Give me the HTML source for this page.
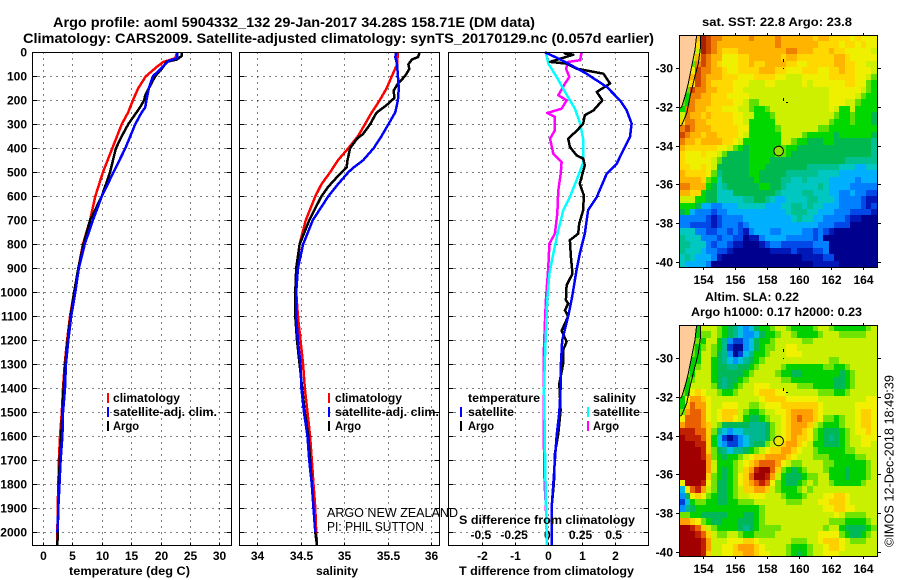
<!DOCTYPE html>
<html lang="en">
<head>
<meta charset="utf-8">
<title>Argo profile 5904332_132</title>
<style>
html,body{margin:0;padding:0;background:#fff;}
svg{display:block;}
text{font-family:"Liberation Sans",sans-serif;font-weight:700;font-size:12px;fill:#000;}
.thin{font-weight:400;font-size:13px;}
.title{font-size:14px;}
</style>
</head>
<body>
<svg id="chart" xmlns="http://www.w3.org/2000/svg" width="900" height="580" viewBox="0 0 900 580">
<rect x="0" y="0" width="900" height="580" fill="#fff"/>
<g id="maps"></g>
<g id="plots"></g>
<text class="title" x="53" y="27" textLength="482" lengthAdjust="spacingAndGlyphs">Argo profile: aoml 5904332_132 29-Jan-2017 34.28S 158.71E (DM data)</text>
<text class="title" x="23" y="43" textLength="631" lengthAdjust="spacingAndGlyphs">Climatology: CARS2009. Satellite-adjusted climatology: synTS_20170129.nc (0.057d earlier)</text>
<text x="69" y="575" textLength="121" lengthAdjust="spacingAndGlyphs">temperature (deg C)</text>
<text x="316" y="575" textLength="42" lengthAdjust="spacingAndGlyphs">salinity</text>
<text x="459" y="575" textLength="175" lengthAdjust="spacingAndGlyphs">T difference from climatology</text>
<text x="459" y="524" textLength="176" lengthAdjust="spacingAndGlyphs">S difference from climatology</text>
<text x="113" y="402" textLength="67" lengthAdjust="spacingAndGlyphs">climatology</text>
<text x="113" y="416" textLength="104" lengthAdjust="spacingAndGlyphs">satellite-adj. clim.</text>
<text x="113" y="430" textLength="26" lengthAdjust="spacingAndGlyphs">Argo</text>
<rect x="107" y="393" width="2" height="10" fill="#f00"/>
<rect x="107" y="407" width="2" height="10" fill="#00f"/>
<rect x="107" y="421" width="2" height="10" fill="#000"/>
<text x="335" y="402" textLength="67" lengthAdjust="spacingAndGlyphs">climatology</text>
<text x="335" y="416" textLength="104" lengthAdjust="spacingAndGlyphs">satellite-adj. clim.</text>
<text x="335" y="430" textLength="26" lengthAdjust="spacingAndGlyphs">Argo</text>
<rect x="328" y="393" width="2" height="10" fill="#f00"/>
<rect x="328" y="407" width="2" height="10" fill="#00f"/>
<rect x="328" y="421" width="2" height="10" fill="#000"/>
<text x="468" y="402" textLength="72" lengthAdjust="spacingAndGlyphs">temperature</text>
<text x="468" y="416" textLength="46" lengthAdjust="spacingAndGlyphs">satellite</text>
<text x="468" y="430" textLength="26" lengthAdjust="spacingAndGlyphs">Argo</text>
<rect x="460" y="407" width="2" height="10" fill="#00f"/>
<rect x="460" y="421" width="2" height="10" fill="#000"/>
<text x="593" y="402" textLength="43" lengthAdjust="spacingAndGlyphs">salinity</text>
<text x="593" y="416" textLength="47" lengthAdjust="spacingAndGlyphs">satellite</text>
<text x="593" y="430" textLength="26" lengthAdjust="spacingAndGlyphs">Argo</text>
<rect x="587" y="407" width="2" height="10" fill="#0ff"/>
<rect x="587" y="421" width="2" height="10" fill="#f0f"/>
<text class="thin" x="327" y="517" textLength="131" lengthAdjust="spacingAndGlyphs">ARGO NEW ZEALAND</text>
<text class="thin" x="327" y="531" textLength="97" lengthAdjust="spacingAndGlyphs">PI: PHIL SUTTON</text>
<text x="702" y="26" textLength="150" lengthAdjust="spacingAndGlyphs">sat. SST: 22.8 Argo: 23.8</text>
<text x="705" y="301" textLength="94" lengthAdjust="spacingAndGlyphs">Altim. SLA: 0.22</text>
<text x="691" y="316" textLength="171" lengthAdjust="spacingAndGlyphs">Argo h1000: 0.17 h2000: 0.23</text>
<text class="thin" transform="translate(893.5,547) rotate(-90)" x="0" y="0" textLength="172" lengthAdjust="spacingAndGlyphs">©IMOS 12-Dec-2018 18:49:39</text>
</svg>
<script>
// ---------- profile data (depths in metres) ----------
const depthTicks = [0,100,200,300,400,500,600,700,800,900,1000,1100,1200,1300,1400,1500,1600,1700,1800,1900,2000];
const tempTicks = [0,5,10,15,20,25,30];
const salTicks = [34,34.5,35,35.5,36];
const tDiffTicks = [-2,-1,0,1,2];
const sDiffTicks = [-0.5,-0.25,0,0.25,0.5];
const sDiffTickLabels = ["-0.5","-0.25","0","0.25","0.5"];

const tempClimDepth = [0,25,40,60,100,150,200,250,300,400,500,600,700,800,900,1000,1100,1200,1300,1400,1500,1600,1700,1800,1900,2000,2054];
const tempClim = [22.8,22.5,20.5,19.4,17.5,16.2,15.3,14.5,13.4,11.8,10.2,8.9,8,6.8,6,5.3,4.6,4.1,3.7,3.4,3.2,2.9,2.7,2.6,2.5,2.45,2.4];
const tempSatDepth = [0,25,35,60,100,150,200,230,250,300,400,500,600,700,800,900,1000,1100,1200,1300,1400,1500,1600,1700,1800,1900,2000];
const tempSat = [22.8,22.8,21.4,20.4,18.7,18,17.6,17.4,16.8,15.7,14,12,10,8.5,7.1,6.1,5.5,4.8,4.3,3.9,3.75,3.4,3.3,3,2.8,2.6,2.45];
const tempArgoDepth = [0,15,30,40,60,100,150,180,200,230,300,350,400,500,550,600,700,800,900,1000,1100,1200,1300,1400,1500,1600,1700,1800,1900,2000,2054];
const tempArgo = [23.6,23.6,22.8,21,20.5,19.1,18,17.4,17.2,16.5,14.5,13.4,12.4,11.4,10.7,10,8,6.9,6,5.3,4.7,4.2,3.8,3.5,3.3,3.1,2.85,2.7,2.6,2.5,2.45];

const salClimDepth = [0,50,100,150,200,250,300,350,400,450,500,550,600,700,800,900,1000,1100,1200,1300,1400,1500,1600,1700,1800,1900,2000,2054];
const salClim = [35.62,35.61,35.55,35.49,35.41,35.32,35.24,35.16,35.05,34.93,34.84,34.74,34.67,34.56,34.49,34.46,34.45,34.47,34.5,34.53,34.55,34.58,34.61,34.63,34.65,34.67,34.68,34.69];
const salSatDepth = [0,20,50,100,150,200,250,300,350,400,450,480,500,550,600,700,800,900,1000,1100,1200,1300,1400,1500,1600,1700,1800,1900,2000];
const salSat = [35.6,35.59,35.61,35.62,35.63,35.62,35.59,35.51,35.43,35.34,35.22,35.11,35.05,34.93,34.82,34.64,34.53,34.47,34.45,34.45,34.47,34.5,34.51,34.54,34.58,34.6,34.63,34.65,34.67];
const salArgoDepth = [0,20,30,50,70,100,130,160,190,220,250,260,300,340,360,400,450,480,520,560,600,700,800,900,1000,1100,1200,1300,1400,1500,1600,1700,1800,1900,2000,2054];
const salArgo = [35.87,35.85,35.78,35.74,35.75,35.7,35.62,35.57,35.58,35.49,35.38,35.36,35.3,35.22,35.15,35.07,35.04,35.03,34.92,34.82,34.74,34.6,34.49,34.45,34.44,34.44,34.46,34.49,34.52,34.55,34.59,34.61,34.63,34.65,34.67,34.69];

const tDiffSatDepth = [0,26,47,89,144,200,242,297,353,408,464,506,603,658,756,839,908,992,1033,1100,1200,1300,1400,1500,1600,1700,1800,1900,2000,2054];
const tDiffSat = [-0.1,0.3,0.6,1.15,1.76,2.16,2.36,2.51,2.46,2.26,2.06,1.76,1.46,1.2,1.1,0.95,0.85,0.75,0.7,0.6,0.42,0.38,0.37,0.33,0.25,0.2,0.15,0.1,0.1,0.1];
const tDiffArgoDepth = [0,5,10,40,47,68,89,130,165,200,242,262,297,325,360,394,429,443,471,547,596,658,714,756,783,853,922,971,1033,1047,1075,1100,1160,1206,1240,1297,1380,1492,1589,1672,1797,1894,2000,2054];
const tDiffArgo = [0.5,0.5,0.75,0.05,0.55,0.85,1.66,1.86,1.46,1.63,1.36,1.1,1.05,0.87,0.6,0.65,0.85,1.05,1.1,0.95,1.07,1.05,0.93,0.9,0.65,0.68,0.73,0.55,0.53,0.6,0.5,0.6,0.4,0.55,0.45,0.45,0.33,0.37,0.3,0.2,0.17,0.1,0.1,0.1];
const sDiffSatDepth = [0,47,103,165,235,297,367,457,533,603,658,742,839,922,1033,1100,1240,1408,1550,1725,1867,2000,2054];
const sDiffSat = [-0.018,0,0.063,0.126,0.2,0.24,0.264,0.264,0.213,0.163,0.113,0.075,0.038,0.008,-0.008,-0.013,-0.023,-0.033,-0.028,-0.023,-0.018,-0.013,-0.013];
const sDiffArgoDepth = [0,33,40,68,103,130,179,200,235,253,269,325,360,422,457,506,575,672,756,797,894,992,1033,1100,1240,1408,1630,1797,1894,2000];
const sDiffArgo = [0.25,0.24,0.15,0.133,0.158,0.126,0.075,0.138,0.1,-0.008,0.05,0.05,0.013,0.038,0.1,0.093,0.075,0.068,0.05,0.008,0,-0.013,-0.018,-0.023,-0.033,-0.033,-0.033,-0.028,-0.018,-0.013];

// ---------- map data ----------
const mapLonTicks = [154,156,158,160,162,164];
const mapLatTicks = [-30,-32,-34,-36,-38,-40];
const coastLon = [153.58,153.48,153.27,153.06,152.85,152.65,152.54];
const coastLat = [-28.28,-29.06,-29.92,-30.78,-31.47,-31.99,-32.07];
const contourLon = [153.83,153.83,153.69,153.42,153.17,152.96,152.65,152.52];
const contourLat = [-28.28,-28.88,-29.75,-30.61,-31.47,-32.33,-32.94,-33.0];
const profileLon = 158.71;
const profileLat = -34.28;
const sstLevelColors = ["#00008f","#0018b8","#0048e8","#0080ff","#00b0ff","#00c8c0","#00c090","#00b850","#00d800","#60e000","#ccf000","#eef000","#ffd800","#ffb400","#f08000","#d04800","#a82000"];
const slaLevelColors = ["#000a90","#0040d8","#0090ff","#00c0e0","#00b890","#00b858","#00d000","#70e400","#c8f000","#f0f000","#ffd000","#ffa000","#e86000","#c02000","#a00000"];
const sstLevels = [
[13,13,13,13,16,15,14,14,13,13,13,13,13,14,13,13,13,13,14,13,13,13,13,13,13,12,13,13,12,12,12,12,11,12,11,11,11],
[13,13,13,12,16,15,14,13,13,13,13,13,13,13,13,13,13,13,14,13,13,13,13,13,13,13,12,12,12,12,11,12,12,11,12,11,11],
[13,13,11,10,16,15,14,13,12,12,12,13,13,13,13,13,13,13,13,13,14,14,13,13,13,12,12,12,13,12,12,11,11,11,11,11,10],
[13,13,10,13,15,14,13,13,11,11,11,12,12,13,13,13,13,13,13,12,13,13,12,12,12,12,12,12,12,13,13,12,11,11,11,11,11],
[13,13,9,14,15,14,13,12,11,11,11,12,12,13,12,12,13,13,13,13,12,12,11,11,12,12,12,12,12,13,13,12,12,11,11,10,10],
[13,13,11,15,14,14,13,13,12,11,11,12,12,12,12,13,13,13,12,12,11,11,11,12,12,12,11,11,12,12,13,12,12,11,11,11,10],
[13,12,13,15,14,13,13,13,12,12,12,11,11,11,12,12,12,12,11,11,10,10,10,11,11,11,11,11,12,12,12,12,12,11,11,10,9],
[13,10,12,15,14,13,12,12,12,12,11,11,11,10,10,10,11,11,10,10,10,10,10,11,10,11,11,11,11,11,11,12,12,11,11,9,8],
[13,9,15,14,14,13,13,12,12,12,11,11,10,10,10,10,10,10,10,10,10,10,10,10,10,10,10,10,11,11,11,11,11,11,10,9,8],
[12,8,14,14,13,13,12,12,12,11,11,11,11,10,10,10,10,10,10,10,10,10,10,10,10,10,10,10,11,11,11,11,11,10,9,8,8],
[9,8,14,13,13,13,12,12,12,12,11,11,10,9,9,10,10,10,10,10,10,10,10,10,10,10,10,10,11,11,11,10,10,9,8,8,8],
[8,14,14,13,13,12,12,12,11,11,11,10,10,9,8,8,9,10,10,10,10,10,10,10,10,10,10,10,11,10,8,8,10,8,8,8,8],
[10,14,13,13,12,13,12,12,12,12,11,11,10,10,8,8,8,9,10,10,10,10,10,10,10,10,10,10,10,9,8,8,9,8,8,8,7],
[12,14,14,13,13,12,12,12,12,12,11,11,10,8,8,8,8,8,10,10,10,10,10,10,10,10,10,10,9,8,8,8,9,8,8,8,7],
[14,15,14,13,13,13,12,12,12,12,12,11,11,8,8,8,8,8,9,10,10,10,10,10,10,10,9,9,8,8,8,8,8,8,8,8,8],
[15,14,13,13,12,13,13,12,12,12,12,11,10,8,8,8,8,8,8,10,10,10,10,9,8,8,8,8,8,7,8,8,8,8,8,8,7],
[14,13,13,12,13,13,13,13,12,12,11,10,8,8,8,8,8,8,8,10,10,9,8,8,7,7,7,8,8,7,7,7,7,7,7,7,6],
[13,12,12,12,12,12,12,11,11,10,9,8,7,8,8,8,8,8,8,9,8,8,7,7,7,7,7,7,7,7,7,7,7,7,7,7,6],
[12,11,11,11,12,11,11,10,9,7,7,7,7,8,8,8,8,8,9,9,8,7,7,7,7,7,7,7,7,7,7,7,7,7,7,7,6],
[12,11,11,11,11,11,10,9,7,7,7,7,7,8,8,8,8,7,7,7,7,7,7,7,7,7,7,7,7,7,7,6,6,6,6,6,6],
[12,12,11,11,12,11,10,7,7,7,7,7,7,8,8,8,7,7,7,7,7,7,7,7,6,6,6,6,6,6,5,5,5,4,4,5,5],
[13,12,12,12,12,11,9,6,7,7,7,7,7,8,8,7,7,7,7,7,6,6,6,6,6,6,5,5,5,5,4,4,4,4,4,4,4],
[13,13,13,13,12,9,8,5,7,7,7,7,7,7,8,7,7,7,7,6,6,5,5,6,5,5,5,5,4,4,4,4,4,3,4,4,4],
[14,14,13,13,13,8,7,5,6,7,7,7,7,7,7,8,8,7,7,6,5,5,5,5,5,5,6,5,4,4,4,4,3,3,3,3,3],
[13,13,12,12,8,7,7,5,5,5,7,7,7,7,7,7,7,7,6,5,5,5,5,6,6,5,5,5,4,4,3,3,4,3,3,2,2],
[10,10,10,8,8,7,7,5,5,5,5,5,6,6,7,7,6,5,4,4,5,5,5,5,6,6,5,5,5,4,3,3,3,3,2,1,1],
[8,8,8,7,4,4,3,3,4,4,4,5,5,5,5,5,4,4,4,5,5,6,6,5,6,5,5,4,4,4,3,3,3,3,2,1,2],
[7,8,4,3,3,3,2,3,3,4,4,4,4,4,4,4,4,4,4,4,5,6,6,6,5,5,4,4,4,3,3,3,2,2,2,2,1],
[3,3,3,3,3,2,1,2,3,3,3,3,4,4,4,4,4,4,4,4,4,5,6,5,5,4,4,3,3,3,3,2,1,1,0,0,0],
[3,3,2,2,2,2,1,2,3,3,3,2,3,4,4,4,4,4,4,4,4,4,4,4,4,4,3,3,3,2,2,2,0,0,0,0,0],
[5,5,5,3,3,2,2,3,3,2,3,2,1,3,4,4,4,3,3,4,4,4,4,3,3,2,3,2,1,0,0,0,0,0,0,0,0],
[6,5,5,5,3,3,3,2,3,3,2,2,0,1,1,3,4,4,4,4,3,3,3,3,3,2,3,0,0,0,0,0,0,0,0,0,0],
[6,6,5,5,5,3,2,3,3,2,1,1,0,0,0,1,2,3,3,2,2,2,2,2,2,3,3,3,0,0,0,0,0,0,0,0,0],
[6,5,5,5,4,3,3,2,2,1,0,0,0,0,0,0,0,1,1,1,1,2,1,1,1,2,2,3,0,0,0,0,0,0,0,0,0],
[5,6,5,4,4,4,3,1,0,0,0,0,0,0,0,0,0,0,0,0,0,0,0,1,1,1,1,2,2,0,0,0,0,0,0,0,0],
[5,4,4,4,4,3,0,0,0,0,0,0,0,0,0,0,0,0,0,0,0,0,0,0,0,1,1,1,1,1,0,0,0,0,0,0,0]
];
const slaLevels = [
[8,8,8,6,8,8,8,7,6,5,4,3,2,3,5,6,6,7,8,8,7,6,6,6,6,7,8,8,7,6,6,6,6,6,6,7,8],
[8,8,8,6,7,7,8,7,6,5,4,3,2,2,3,5,6,6,7,8,8,7,6,6,6,6,7,8,8,8,7,7,7,7,7,8,8],
[8,8,8,7,6,8,8,6,4,2,1,1,2,3,5,6,6,7,8,8,8,8,8,7,7,8,8,8,8,8,8,8,8,8,8,8,8],
[8,8,7,6,7,8,7,6,4,1,0,0,2,3,5,6,7,7,8,8,9,9,8,8,8,8,8,8,8,8,8,8,8,8,8,8,8],
[8,8,7,6,8,8,7,5,4,2,0,1,3,4,6,6,7,8,8,8,9,9,9,8,8,8,8,8,8,8,8,8,8,8,8,8,8],
[8,8,6,6,8,8,6,5,4,3,2,3,4,5,6,7,8,8,8,8,8,8,8,8,8,8,8,8,7,7,8,8,8,8,8,8,8],
[8,8,6,7,8,8,6,5,5,4,4,5,5,6,7,8,8,8,8,7,6,6,6,6,6,6,6,7,7,6,6,7,8,8,8,8,8],
[8,7,6,8,8,8,6,5,5,5,5,5,6,7,8,8,8,8,7,6,6,5,5,6,6,6,6,6,6,6,5,6,7,8,8,8,8],
[8,6,7,8,8,8,6,5,4,5,5,6,7,8,8,8,8,8,8,7,7,6,6,6,6,6,6,6,6,5,5,6,7,8,8,8,8],
[8,6,8,8,8,8,7,5,4,5,6,7,8,8,9,9,9,8,8,8,8,8,7,7,7,6,6,6,6,5,5,6,7,8,8,8,8],
[7,6,9,10,9,8,8,7,6,6,7,8,8,8,9,10,10,10,9,9,8,8,8,8,8,8,7,7,7,6,6,7,8,8,8,8,8],
[6,9,11,11,10,9,8,8,8,8,8,8,8,8,8,9,10,10,10,10,9,9,9,9,9,9,8,8,8,8,8,8,8,8,8,9,9],
[6,10,12,11,11,9,8,8,9,9,9,8,8,7,7,8,9,9,9,10,10,10,10,10,10,10,9,8,8,8,8,8,8,9,9,9,9],
[7,11,12,12,11,9,8,9,10,10,10,8,7,6,6,7,8,8,9,9,10,11,11,11,11,10,9,8,8,8,8,8,8,9,10,10,9],
[9,12,12,12,11,9,8,9,10,10,9,8,6,5,5,6,7,8,8,9,10,11,12,11,11,10,9,7,7,6,7,8,8,9,10,10,9],
[11,12,12,12,11,10,8,7,5,5,5,5,5,4,4,4,5,7,8,9,10,11,11,11,10,8,7,6,6,6,7,8,8,9,10,10,9],
[13,13,13,12,12,10,7,4,3,2,3,3,4,4,4,4,5,7,8,9,10,11,11,10,9,7,6,5,5,5,6,7,8,9,9,10,9],
[14,13,13,13,12,10,6,3,1,0,1,2,3,4,4,4,5,7,8,9,10,11,10,10,9,7,6,5,4,5,6,7,8,8,9,9,9],
[14,14,14,13,13,10,6,3,2,1,1,2,3,4,5,5,7,8,9,10,11,11,10,9,8,6,6,5,5,5,6,7,8,8,9,9,8],
[14,14,14,14,13,10,7,5,4,3,4,4,5,6,7,8,9,10,10,11,11,10,9,8,8,7,6,6,6,6,6,7,7,8,8,8,8],
[14,14,14,14,13,11,7,6,5,6,6,7,8,9,10,10,11,11,11,11,10,9,8,8,8,7,7,7,6,6,6,6,6,7,7,8,8],
[14,14,14,14,14,11,8,6,6,6,7,8,9,10,11,12,12,12,11,9,8,7,7,8,8,8,8,7,7,6,6,6,6,6,6,7,8],
[14,14,14,14,14,11,8,6,5,6,7,8,10,11,13,14,14,12,10,7,6,5,6,7,8,8,8,7,6,6,6,5,6,6,6,7,8],
[14,14,14,14,14,10,7,6,5,6,7,9,10,12,14,14,13,11,8,6,5,5,5,6,7,7,8,8,6,6,6,5,6,6,6,7,8],
[9,14,14,14,13,9,7,5,5,6,7,9,10,11,12,13,12,9,7,6,5,5,6,7,8,7,8,8,7,6,6,6,6,6,7,8,8],
[3,9,12,13,11,8,7,5,5,6,7,8,10,10,11,11,10,8,7,6,6,6,7,8,7,8,8,8,8,8,8,8,8,8,8,8,8],
[2,5,9,10,9,7,6,5,5,6,7,8,8,9,9,9,8,8,8,7,6,6,6,7,8,8,8,9,9,10,10,9,8,8,8,8,8],
[1,3,6,7,7,6,6,5,5,6,6,7,7,7,8,8,8,8,8,8,7,7,7,8,8,8,9,9,10,10,10,9,8,8,8,8,8],
[2,4,5,6,6,6,6,6,6,6,6,6,6,6,6,7,8,8,8,8,8,8,8,8,8,8,8,9,9,10,10,9,9,8,8,8,8],
[7,7,6,6,5,5,5,5,5,6,6,6,5,5,6,7,8,8,8,8,8,8,8,8,8,8,8,8,8,9,8,7,7,7,7,8,8],
[11,11,10,9,7,6,5,5,6,6,6,5,5,5,6,7,8,8,8,8,8,8,8,8,8,8,8,8,7,7,7,6,6,6,6,7,8],
[14,14,13,12,10,8,7,6,6,6,6,5,4,5,6,7,7,7,7,8,8,8,8,8,8,8,8,7,8,8,6,5,5,5,5,6,7],
[14,14,14,13,12,10,8,7,7,8,8,7,6,6,7,7,7,7,8,8,8,8,8,8,8,8,9,9,9,9,7,6,5,5,6,7,8],
[14,14,14,14,13,11,8,8,8,9,9,9,10,10,9,8,8,8,8,8,8,7,7,7,8,8,9,10,10,10,9,8,7,7,7,8,8],
[14,14,14,14,13,11,8,8,9,9,10,11,11,11,10,9,8,8,8,8,7,6,6,6,7,8,8,9,10,10,9,8,8,8,8,8,8],
[14,14,14,14,13,10,8,8,9,9,10,10,11,11,10,9,9,8,8,8,7,6,5,6,7,8,8,9,9,9,8,8,8,8,8,8,8]
];

const SVGNS = "http://www.w3.org/2000/svg";
function mk(tag, attrs, parent) {
  const el = document.createElementNS(SVGNS, tag);
  for (const k in attrs) el.setAttribute(k, attrs[k]);
  parent.appendChild(el);
  return el;
}
function depthY(d) { return 52.3 + 0.24 * d; }
function tempX(t) { return 43 + 5.875 * t; }
function salX(s) { return 257 + 87 * (s - 34); }
function tDiffX(t) { return 548.3 + 33.2 * t; }
function sDiffX(s) { return tDiffX(s * 4); }

const plots = document.getElementById("plots");
const panels = [
  {name:"temperature", x0:32.5, x1:231.5, ticks:tempTicks, fx:tempX},
  {name:"salinity", x0:239.5, x1:439.5, ticks:salTicks, fx:salX},
  {name:"difference", x0:448.5, x1:648.5, ticks:tDiffTicks, fx:tDiffX}
];
const top_ = 52.5, bot_ = 545.5;

panels.forEach(function (p) {
  const g = mk("g", {}, plots);
  
  
  depthTicks.forEach(function (d) {
    const y = Math.round(depthY(d)) + 0.5;
    if (d > 0) {
      const gl = mk("line", {x1:p.x0, x2:p.x1, y1:y, y2:y, stroke:"#000", "stroke-width":1, "stroke-dasharray":"1 5", "shape-rendering":"crispEdges"}, g);
      
      
      const tl = mk("line", {x1:p.x0, x2:p.x0 + 5, y1:y, y2:y, stroke:"#000", "shape-rendering":"crispEdges"}, g);
      
      
      const tr = mk("line", {x1:p.x1 - 5, x2:p.x1, y1:y, y2:y, stroke:"#000", "shape-rendering":"crispEdges"}, g);
      
      
    }
  });
  p.ticks.forEach(function (v) {
    const x = Math.round(p.fx(v)) + 0.5;
    const gl = mk("line", {x1:x, x2:x, y1:top_, y2:bot_, stroke:"#000", "stroke-width":1, "stroke-dasharray":"1 5", "shape-rendering":"crispEdges"}, g);
    
    
    const tb = mk("line", {x1:x, x2:x, y1:bot_ - 3, y2:bot_, stroke:"#000", "shape-rendering":"crispEdges"}, g);
    
    
    const lab = mk("text", {x:x, y:560, "text-anchor":"middle"}, g);
    lab.textContent = String(v);
    
    
  });
});

depthTicks.forEach(function (d) {
  const t = mk("text", {x:27, y:depthY(d) + 4, "text-anchor":"end"}, plots);
  t.textContent = String(d);
  
  
});

sDiffTicks.forEach(function (s, i) {
  const t = mk("text", {x:sDiffX(s) - 1, y:539, "text-anchor":"middle"}, plots);
  t.textContent = sDiffTickLabels[i];
  
  
});

function drawLine(name, depths, values, fx, color) {
  const pts = values.map(function (v, i) { return fx(v).toFixed(1) + "," + depthY(depths[i]).toFixed(1); }).join(" ");
  const pl = mk("polyline", {points:pts, fill:"none", stroke:color, "stroke-width":2.5, "stroke-linejoin":"round", "shape-rendering":"crispEdges"}, plots);
  
  
}
drawLine("temperature-climatology-line", tempClimDepth, tempClim, tempX, "#f00");
drawLine("temperature-argo-line", tempArgoDepth, tempArgo, tempX, "#000");
drawLine("temperature-satellite-line", tempSatDepth, tempSat, tempX, "#00f");
drawLine("salinity-climatology-line", salClimDepth, salClim, salX, "#f00");
drawLine("salinity-argo-line", salArgoDepth, salArgo, salX, "#000");
drawLine("salinity-satellite-line", salSatDepth, salSat, salX, "#00f");
drawLine("s-difference-argo-line", sDiffArgoDepth, sDiffArgo, sDiffX, "#f0f");
drawLine("s-difference-satellite-line", sDiffSatDepth, sDiffSat, sDiffX, "#0ff");
drawLine("t-difference-argo-line", tDiffArgoDepth, tDiffArgo, tDiffX, "#000");
drawLine("t-difference-satellite-line", tDiffSatDepth, tDiffSat, tDiffX, "#00f");

panels.forEach(function (p) {
  const fr = mk("rect", {x:p.x0, y:top_, width:p.x1 - p.x0, height:bot_ - top_, fill:"none", stroke:"#000", "stroke-width":1, "shape-rendering":"crispEdges"}, plots);
  
  
});

// ---------- maps ----------
const maps = document.getElementById("maps");
function drawMap(mapName, levels, colors, top, bottom, lat30y, markerFill) {
  const lonX = function (lon) { return 703.3 + (lon - 154) * 16; };
  const latY = function (lat) { return lat30y + (-30 - lat) * 19.33; };
  const left = 679.3;
  const g = mk("g", {}, maps);
  
  
  levels.forEach(function (row, r) {
    row.forEach(function (lev, c) {
      const x0 = Math.round(lonX(152.5 + c / 3));
      const x1 = c === row.length - 1 ? 878 : Math.round(lonX(152.5 + (c + 1) / 3));
      const y0 = Math.round(latY(-28.28 - r / 3));
      const y1 = Math.round(latY(-28.28 - (r + 1) / 3));
      const cell = mk("rect", {x:x0, y:y0, width:x1 - x0, height:y1 - y0, fill:colors[lev], "shape-rendering":"crispEdges"}, g);
      
      
    });
  });
  const landPts = coastLon.map(function (lon, i) { return lonX(lon).toFixed(1) + "," + latY(coastLat[i]).toFixed(1); });
  landPts.push(left + "," + latY(coastLat[coastLat.length - 1]).toFixed(1));
  landPts.push(left + "," + top);
  const land = mk("polygon", {points:landPts.join(" "), fill:"#ffcc99", "shape-rendering":"crispEdges"}, g);
  
  
  const coast = mk("polyline", {points:coastLon.map(function (lon, i) { return lonX(lon).toFixed(1) + "," + latY(coastLat[i]).toFixed(1); }).join(" "), fill:"none", stroke:"#000", "stroke-width":1, "shape-rendering":"crispEdges"}, g);
  
  
  const contour = mk("polyline", {points:contourLon.map(function (lon, i) { return lonX(lon).toFixed(1) + "," + latY(contourLat[i]).toFixed(1); }).join(" "), fill:"none", stroke:"#000", "stroke-width":1, "shape-rendering":"crispEdges"}, g);
  
  
  [[159.0,-29.5,1,3],[159.0,-30.0,1,1],[159.0,-31.55,1,3],[159.2,-31.75,2,1]].forEach(function (d) {
    const isl = mk("rect", {x:Math.round(lonX(d[0])), y:Math.round(latY(d[1])), width:d[2], height:d[3], fill:"#000", "shape-rendering":"crispEdges"}, g);
    
    
  });
  const frame = mk("rect", {x:679.5, y:top + 0.5, width:198, height:bottom - top, fill:"none", stroke:"#000", "stroke-width":1, "shape-rendering":"crispEdges"}, g);
  
  
  mapLonTicks.forEach(function (lon) {
    const x = Math.round(lonX(lon)) + 0.5;
    const t1 = mk("line", {x1:x, x2:x, y1:top - 2, y2:top, stroke:"#000", "shape-rendering":"crispEdges"}, g);
    
    
    const t2 = mk("line", {x1:x, x2:x, y1:bottom, y2:bottom + 3, stroke:"#000", "shape-rendering":"crispEdges"}, g);
    
    
    const lab = mk("text", {x:x, y:bottom + 17, "text-anchor":"middle"}, g);
    lab.textContent = String(lon);
    
    
  });
  mapLatTicks.forEach(function (lat) {
    const y = Math.round(latY(lat)) + 0.5;
    const t1 = mk("line", {x1:676, x2:679, y1:y, y2:y, stroke:"#000", "shape-rendering":"crispEdges"}, g);
    
    
    const t2 = mk("line", {x1:878, x2:881, y1:y, y2:y, stroke:"#000", "shape-rendering":"crispEdges"}, g);
    
    
    const lab = mk("text", {x:673, y:y + 4, "text-anchor":"end"}, g);
    lab.textContent = String(lat);
    
    
  });
  const marker = mk("circle", {cx:lonX(profileLon), cy:latY(profileLat), r:4.8, fill:markerFill, stroke:"#000", "stroke-width":1}, g);
  
  
}
drawMap("sst-map", sstLevels, sstLevelColors, 35, 267, 68.3, "#90e000");
drawMap("sla-map", slaLevels, slaLevelColors, 325, 556, 358.3, "#e8e800");
</script>
</body>
</html>
